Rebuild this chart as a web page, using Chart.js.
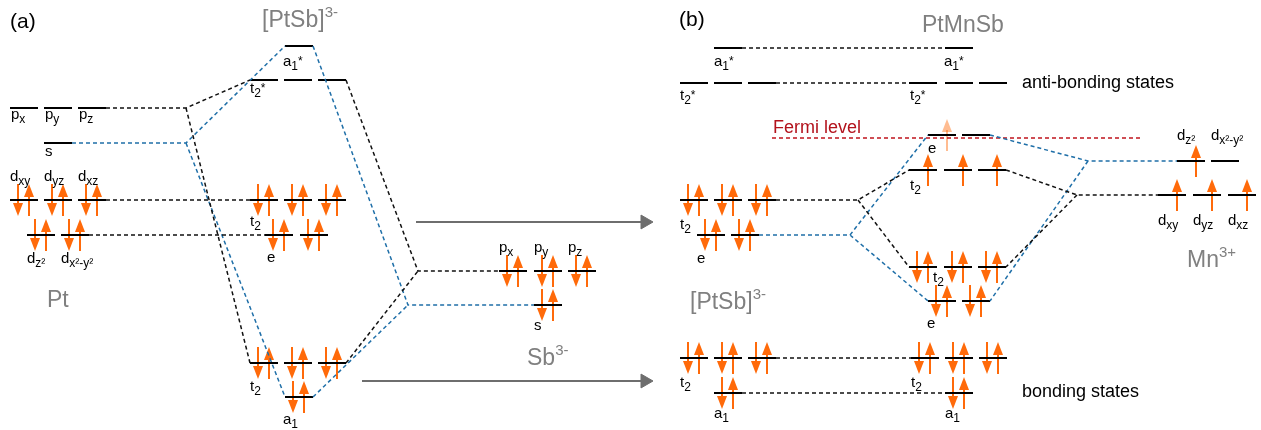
<!DOCTYPE html>
<html>
<head>
<meta charset="utf-8">
<script src="https://cdn.jsdelivr.net/npm/chart.js@4.4.1/dist/chart.umd.min.js"></script>
<style>
  html, body { margin: 0; padding: 0; background: #fff; }
  #wrap { width: 1261px; height: 430px; }
</style>
</head>
<body>
<div id="wrap"><canvas id="mo" width="1261" height="430"></canvas></div>
<script>
// energy levels: [x, energy, electrons]  (0 empty, 1 spin up, 2 pair, 3 faint spin up)
const ptLevels = [[10,322,0],[44,322,0],[78,322,0],[44,287,0],[10,230,2],[44,230,2],[78,230,2],[27,195,2],[61,195,2]];
const ptSbLevels = [[285,384,0],[250,350,0],[284,350,0],[318,350,0],[250,230,2],[284,230,2],[318,230,2],[265,195,2],[300,195,2],[250,67,2],[284,67,2],[318,67,2],[285,33,2]];
const sbLevels = [[499,159,2],[534,159,2],[568,159,2],[534,125,2]];
const ptSbLevelsB = [[714,382,0],[680,347,0],[714,347,0],[748,347,0],[680,230,2],[714,230,2],[748,230,2],[697,195,2],[731,195,2],[680,72,2],[714,72,2],[748,72,2],[714,37,2]];
const ptMnSbLevels = [[945,382,0],[909,347,0],[945,347,0],[979,347,0],[928,295,3],[962,295,0],[909,260,1],[944,260,1],[978,260,1],[909,163,2],[944,163,2],[978,163,2],[928,129,2],[962,129,2],[911,72,2],[945,72,2],[979,72,2],[945,37,2]];
const mnLevels = [[1177,269,1],[1211,269,0],[1158,235,1],[1193,235,1],[1228,235,1]];

// dashed correlation lines, as [x, energy] paths
const blackLinks = [
  [[106,322],[186,322],[250,350]], [[186,322],[250,67]], [[106,230],[250,230]], [[89,195],[265,195]],
  [[346,350],[418,159],[499,159]], [[346,67],[418,159]],
  [[742,382],[945,382]], [[776,347],[909,347]], [[776,230],[858,230],[909,260]], [[858,230],[909,163]],
  [[1006,260],[1077,235],[1158,235]], [[1077,235],[1006,163]], [[776,72],[911,72]], [[742,37],[945,37]]
];
const blueLinks = [
  [[72,287],[186,287],[285,384]], [[186,287],[285,33]], [[313,384],[408,125],[534,125]], [[313,33],[408,125]],
  [[759,195],[850,195],[928,295]], [[850,195],[928,129]], [[990,295],[1088,269],[1177,269]], [[1088,269],[990,129]]
];
const fermiLine = [[[772,292],[1143,292]]];
const shiftArrows = [[[416,208],[645,208]], [[362,49],[645,49]]];

// text: [x, energy(baseline), text, style]
const labels = [
  [10,402,'(a)','panel'], [679,404,'(b)','panel'],
  [11,311,'p_{x}','lab'], [45,311,'p_{y}','lab'], [79,311,'p_{z}','lab'], [45,274,'s','lab'],
  [10,249,'d_{xy}','lab'], [44,249,'d_{yz}','lab'], [78,249,'d_{xz}','lab'],
  [27,167,'d_{z²}','lab'], [61,167,'d_{x²-y²}','lab'], [47,123,'Pt','title'],
  [262,403,'[PtSb]^{3-}','title'], [283,364,'a_{1}^{*}','lab'], [250,337,'t_{2}^{*}','lab'],
  [250,204,'t_{2}','lab'], [267,168,'e','lab'], [250,39,'t_{2}','lab'], [283,6,'a_{1}','lab'],
  [499,178,'p_{x}','lab'], [534,178,'p_{y}','lab'], [568,178,'p_{z}','lab'], [534,100,'s','lab'], [527,65,'Sb^{3-}','title'],
  [922,398,'PtMnSb','title'], [714,364,'a_{1}^{*}','lab'], [944,364,'a_{1}^{*}','lab'],
  [680,330,'t_{2}^{*}','lab'], [910,330,'t_{2}^{*}','lab'], [1022,342,'anti-bonding states','note'],
  [773,297,'Fermi level','fermi'], [1177,290,'d_{z²}','lab'], [1211,290,'d_{x²-y²}','lab'],
  [928,277,'e','lab'], [910,240,'t_{2}','lab'],
  [1158,205,'d_{xy}','lab'], [1193,205,'d_{yz}','lab'], [1228,205,'d_{xz}','lab'], [1187,163,'Mn^{3+}','title'],
  [680,201,'t_{2}','lab'], [697,167,'e','lab'], [933,148,'t_{2}','lab'], [690,121,'[PtSb]^{3-}','title'],
  [927,102,'e','lab'], [680,43,'t_{2}','lab'], [911,43,'t_{2}','lab'], [714,12,'a_{1}','lab'], [945,12,'a_{1}','lab'],
  [1022,33,'bonding states','note']
];

const LEVEL_W = 28;
const DOWN_DX = 8, UP_DX = 19;
const ORANGE = '#ff6a0a';
const FONT = "'Liberation Sans', Arial, sans-serif";
const STYLES = {
  lab:   { size: 15, sub: 12, color: '#000' },
  title: { size: 23, sub: 15, color: '#808080' },
  panel: { size: 21, sub: 14, color: '#000' },
  note:  { size: 18, sub: 12, color: '#000' },
  fermi: { size: 18, sub: 12, color: '#b3121c' }
};

const allLevels = [...ptLevels, ...ptSbLevels, ...sbLevels, ...ptSbLevelsB, ...ptMnSbLevels, ...mnLevels];

function pathsToData(paths) {
  const out = [];
  paths.forEach(p => {
    p.forEach(([x, y]) => out.push({ x, y }));
    out.push({ x: p[0][0], y: null });
  });
  return out;
}

function electronData() {
  const out = [];
  allLevels.forEach(([x, e, n]) => {
    if (n === 2) { out.push({ x: x + DOWN_DX, y: e, dir: 'down' }); out.push({ x: x + UP_DX, y: e, dir: 'up' }); }
    if (n === 1) out.push({ x: x + UP_DX, y: e, dir: 'up' });
    if (n === 3) out.push({ x: x + UP_DX, y: e, dir: 'faint' });
  });
  return out;
}

function makeArrow(dir, alpha) {
  const c = document.createElement('canvas');
  c.width = 12; c.height = 32;
  const g = c.getContext('2d');
  g.globalAlpha = alpha;
  g.fillStyle = ORANGE;
  g.beginPath();
  if (dir === 'down') {
    g.fillRect(5, 0, 2, 21);
    g.moveTo(6, 32); g.lineTo(11, 19); g.lineTo(1, 19);
  } else {
    g.fillRect(5, 11, 2, 21);
    g.moveTo(6, 0); g.lineTo(11, 13); g.lineTo(1, 13);
  }
  g.closePath();
  g.fill();
  return c;
}
const ARROWS = { up: makeArrow('up', 1), down: makeArrow('down', 1), faint: makeArrow('up', 0.45) };

function lineSet(data, color, width, dash) {
  return { data, borderColor: color, borderWidth: width, borderDash: dash || [], pointRadius: 0,
           showLine: true, spanGaps: false, fill: false, tension: 0, clip: false };
}

function drawRich(ctx, str, x, y, st) {
  const parts = str.match(/_\{[^}]*\}|\^\{[^}]*\}|[^_^]+/g);
  let cx = x;
  parts.forEach(p => {
    let t = p, size = st.size, dy = 0;
    if (p[0] === '_') { t = p.slice(2, -1); size = st.sub; dy = st.size * 0.27; }
    else if (p[0] === '^') { t = p.slice(2, -1); size = st.sub; dy = t === '*' ? -1 : -st.size * 0.42; }
    ctx.font = size + 'px ' + FONT;
    ctx.fillText(t, cx, y + dy);
    cx += ctx.measureText(t).width;
  });
}

const textPlugin = {
  id: 'moText',
  afterDatasetsDraw(chart) {
    const { ctx, scales: { x, y } } = chart;
    ctx.save();
    ctx.textBaseline = 'alphabetic';
    ctx.textAlign = 'left';
    labels.forEach(([lx, ly, txt, s]) => {
      const st = STYLES[s];
      ctx.fillStyle = st.color;
      drawRich(ctx, txt, x.getPixelForValue(lx), y.getPixelForValue(ly), st);
    });
    ctx.restore();
  }
};

const arrowSets = shiftArrows.map(p => ({
  data: p.map(([x, y]) => ({ x, y })),
  borderColor: '#6e6e6e', borderWidth: 2, showLine: true, clip: false,
  pointStyle: 'triangle', pointRotation: 90, pointRadius: [0, 8],
  pointBackgroundColor: '#6e6e6e', pointBorderColor: '#6e6e6e', pointBorderWidth: 1
}));

new Chart(document.getElementById('mo'), {
  type: 'line',
  data: {
    datasets: [
      lineSet(pathsToData(blackLinks), '#111', 1.5, [4, 3]),
      lineSet(pathsToData(blueLinks), '#1f6fa8', 1.5, [4, 3]),
      lineSet(pathsToData(fermiLine), '#c0141e', 1.5, [4, 3]),
      lineSet(pathsToData(allLevels.map(([x, e]) => [[x, e], [x + LEVEL_W, e]])), '#000', 2),
      ...arrowSets,
      { data: electronData(), showLine: false, pointRadius: 4, clip: false,
        pointStyle: c => ARROWS[(c.raw && c.raw.dir) || 'up'] }
    ]
  },
  options: {
    responsive: false,
    animation: false,
    events: [],
    layout: { autoPadding: false, padding: 0 },
    plugins: { legend: { display: false }, tooltip: { enabled: false } },
    scales: {
      x: { type: 'linear', min: 0, max: 1261, display: false },
      y: { type: 'linear', min: 0, max: 430, display: false }
    }
  },
  plugins: [textPlugin]
});
</script>
</body>
</html>
